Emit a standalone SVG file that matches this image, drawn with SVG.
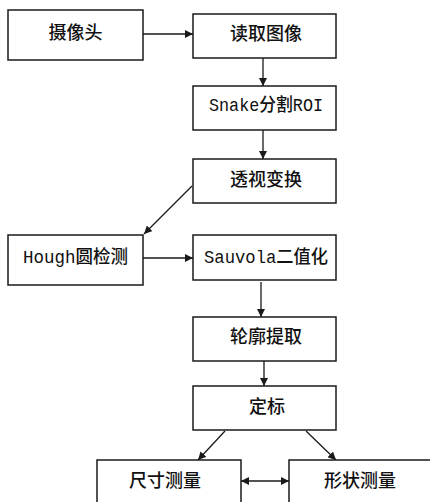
<svg xmlns="http://www.w3.org/2000/svg" width="430" height="502" viewBox="0 0 430 502">
<style>
.box{fill:#fff;stroke:#1a1a1a;stroke-width:1.5}
.t{font-family:"Liberation Mono","Noto Sans CJK SC",monospace;font-size:18px;font-weight:500;fill:#111;text-anchor:middle;dominant-baseline:central}
.c{stroke:#1a1a1a;stroke-width:1.3;fill:none}
</style>
<defs>
<marker id="a" viewBox="0 0 10 10" refX="10" refY="5" markerWidth="8" markerHeight="8" markerUnits="userSpaceOnUse" orient="auto-start-reverse">
<path d="M0,0 L10,5 L0,10 z" fill="#1a1a1a"/>
</marker>
</defs>
<rect width="430" height="502" fill="#fff"/>
<g id="connectors">
<line class="c" x1="143" y1="34" x2="193" y2="34" marker-end="url(#a)"/>
<line class="c" x1="263" y1="58" x2="263" y2="86" marker-end="url(#a)"/>
<line class="c" x1="263" y1="130" x2="263" y2="159" marker-end="url(#a)"/>
<line class="c" x1="192" y1="186" x2="144" y2="234" marker-end="url(#a)"/>
<line class="c" x1="143" y1="258" x2="193" y2="258" marker-end="url(#a)"/>
<line class="c" x1="261" y1="282" x2="261" y2="317" marker-end="url(#a)"/>
<line class="c" x1="264" y1="361" x2="264" y2="386" marker-end="url(#a)"/>
<line class="c" x1="225" y1="431" x2="198" y2="460" marker-end="url(#a)"/>
<line class="c" x1="306" y1="431" x2="336" y2="460" marker-end="url(#a)"/>
<line class="c" x1="241" y1="481" x2="289" y2="481" marker-start="url(#a)" marker-end="url(#a)"/>
</g>
<g id="camera"><rect class="box" x="8" y="10" width="135" height="50"/><text class="t" x="75.5" y="34">摄像头</text></g>
<g id="read"><rect class="box" x="193" y="14" width="143" height="44"/><text class="t" x="266" y="35">读取图像</text></g>
<g id="snake"><rect class="box" x="193" y="86" width="143" height="44"/><text class="t" x="266" y="106" textLength="114" lengthAdjust="spacingAndGlyphs">Snake分割ROI</text></g>
<g id="perspective"><rect class="box" x="193" y="159" width="143" height="44"/><text class="t" x="266" y="181">透视变换</text></g>
<g id="hough"><rect class="box" x="8" y="235" width="135" height="50"/><text class="t" x="75.5" y="258" textLength="105" lengthAdjust="spacingAndGlyphs">Hough圆检测</text></g>
<g id="sauvola"><rect class="box" x="193" y="235" width="143" height="45"/><text class="t" x="266" y="258" textLength="124" lengthAdjust="spacingAndGlyphs">Sauvola二值化</text></g>
<g id="contour"><rect class="box" x="193" y="317" width="143" height="44"/><text class="t" x="266" y="338">轮廓提取</text></g>
<g id="calib"><rect class="box" x="193" y="386" width="143" height="44"/><text class="t" x="267" y="408">定标</text></g>
<g id="size"><rect class="box" x="97" y="460" width="144" height="60"/><text class="t" x="165" y="482">尺寸测量</text></g>
<g id="shape"><rect class="box" x="289" y="460" width="160" height="60"/><text class="t" x="360" y="482">形状测量</text></g>
</svg>
